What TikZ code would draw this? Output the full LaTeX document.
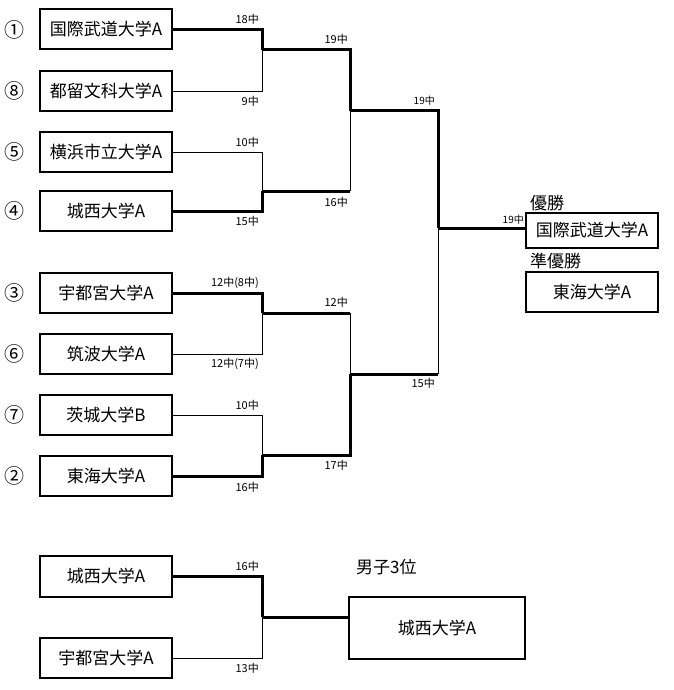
\documentclass[tikz,border=0pt]{standalone}
\usepackage{fontspec}
\setmainfont{Noto Sans CJK JP}
\begin{document}
\begin{tikzpicture}[x=1pt,y=-1pt,
  team/.style={draw,line width=2pt,minimum width=132pt,minimum height=40pt,inner sep=0pt,font=\fontsize{17}{17}\selectfont},
  score/.style={font=\fontsize{11}{11}\selectfont,inner sep=0pt,anchor=east},
  win/.style={line width=3pt},
  lose/.style={line width=0.9pt},
  seed/.style={font=\fontsize{20}{20}\selectfont,inner sep=0pt},
  title/.style={font=\fontsize{17}{17}\selectfont,inner sep=0pt}]
\useasboundingbox (0,0) rectangle (673,690);
% teams
\node[team] (b1) at (106,29.5) {国際武道大学A};
\node[team] (b8) at (106,91) {都留文科大学A};
\node[team] (b5) at (106,152) {横浜市立大学A};
\node[team] (b4) at (106,211) {城西大学A};
\node[team] (b3) at (106,293) {宇都宮大学A};
\node[team] (b6) at (106,354) {筑波大学A};
\node[team] (b7) at (106,415) {茨城大学B};
\node[team] (b2) at (106,476) {東海大学A};
% seeds
\node[seed] (s1) at (14.5,29.5) {①};
\node[seed] (s8) at (14.5,91) {⑧};
\node[seed] (s5) at (14.5,152) {⑤};
\node[seed] (s4) at (14.5,211) {④};
\node[seed] (s3) at (14.5,293) {③};
\node[seed] (s6) at (14.5,354) {⑥};
\node[seed] (s7) at (14.5,415) {⑦};
\node[seed] (s2) at (14.5,476) {②};
% junctions
\coordinate (j1) at (262,50);
\coordinate (j2) at (262,191);
\coordinate (j3) at (262,313);
\coordinate (j4) at (262,455);
\coordinate (j5) at (350,111);
\coordinate (j6) at (350,374);
\coordinate (j7) at (438,228);
% round 1
\draw[win] (b1.east) -| (j1);
\draw[lose] (b8.east) -| (j1);
\draw[lose] (b5.east) -| (j2);
\draw[win] (b4.east) -| (j2);
\draw[win] (b3.east) -| (j3);
\draw[lose] (b6.east) -| (j3);
\draw[lose] (b7.east) -| (j4);
\draw[win] (b2.east) -| (j4);
% round 2
\draw[win] (j1) -| (j5);
\draw[win] (j2) -- (j2 -| j5);
\draw[lose] (j2 -| j5) -- (j5);
\draw[win] (j3) -- (j3 -| j6);
\draw[lose] (j3 -| j6) -- (j6);
\draw[win] (j4) -| (j6);
% round 3
\draw[win] (j5) -| (j7);
\draw[win] (j6) -- (j6 -| j7);
\draw[lose] (j6 -| j7) -- (j7);
% final
\node[team,minimum height=35pt] (champ) at (592,230.5) {国際武道大学A};
\node[team] (runner) at (592,292) {東海大学A};
\draw[win] (j7) -- (j7 -| champ.west);
\node[title,anchor=west] (lw) at (530,203) {優勝};
\node[title,anchor=west] (lr) at (530,261) {準優勝};
% scores
\node[score] at (259,19) {18中};
\node[score] at (259,101) {9中};
\node[score] at (259,142) {10中};
\node[score] at (259,221) {15中};
\node[score] at (348,39) {19中};
\node[score] at (348,202) {16中};
\node[score,font=\fontsize{10}{10}\selectfont] at (435,101) {19中};
\node[score,font=\fontsize{10}{10}\selectfont] at (524,220) {19中};
\node[score] at (259,283) {12中(8中)};
\node[score] at (259,364) {12中(7中)};
\node[score] at (259,405) {10中};
\node[score] at (259,487) {16中};
\node[score] at (348,302) {12中};
\node[score] at (348,465) {17中};
\node[score] at (435,383) {15中};
% third place
\node[team,minimum height=41pt] (ta) at (106,576.5) {城西大学A};
\node[team] (tb) at (106,658) {宇都宮大学A};
\coordinate (jt) at (262,617);
\node[team,minimum width=176pt,minimum height=62pt] (third) at (437,628) {城西大学A};
\draw[win] (ta.east) -| (jt);
\draw[lose] (tb.east) -| (jt);
\draw[win] (jt) -- (jt -| third.west);
\node[score] at (259,566) {16中};
\node[score] at (259,668) {13中};
\node[title,anchor=west] (l3) at (356,567) {男子3位};
\end{tikzpicture}
\end{document}
